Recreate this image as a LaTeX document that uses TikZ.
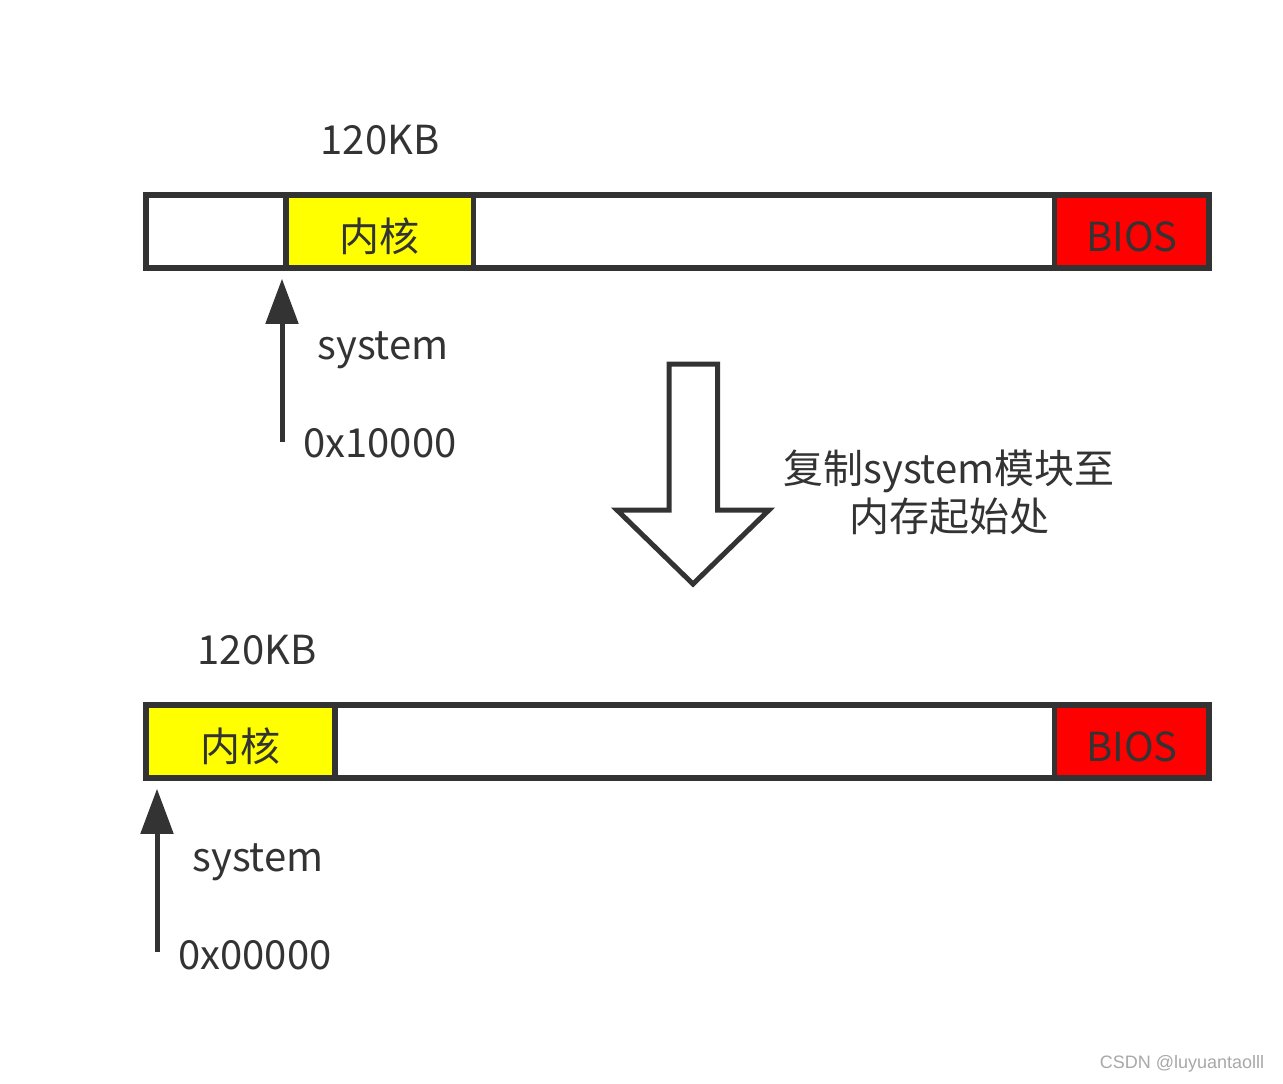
\documentclass[tikz,border=0pt]{standalone}
\usepackage{fontspec}
\setmainfont{Noto Sans CJK SC}
\newfontfamily\wmfont{Liberation Sans}
\usetikzlibrary{arrows.meta}
\definecolor{lc}{HTML}{333333}
\definecolor{wm}{HTML}{A8A8A8}
\definecolor{bred}{HTML}{FF0000}
\definecolor{kyel}{HTML}{FFFF00}
\begin{document}
\begin{tikzpicture}[x=1pt,y=-1pt,
  cell/.style={draw=lc, line width=5.5pt, minimum height=73pt, inner sep=0pt, line join=miter},
  lbl/.style={text=lc, inner sep=0pt, font=\fontsize{40pt}{48pt}\selectfont},
  inlbl/.style={label={[lbl, yshift=-5pt]center:#1}},
  ptr/.style={draw=lc, line width=5pt, shorten >=8pt, -{Triangle[width=32pt,length=45pt]}},
]
\useasboundingbox (0,0) rectangle (1283,1084);
\fill[white] (0,0) rectangle (1283,1084);

% top bar
\node[cell, minimum width=140pt] (c1) at (216,231.5) {};
\node[cell, minimum width=187.5pt, fill=kyel, inlbl=内核] (k1) at (379.75,231.5) {};
\node[cell, minimum width=581pt] (m1) at (764,231.5) {};
\node[cell, minimum width=154.5pt, fill=bred, inlbl=BIOS] (b1) at (1131.75,231.5) {};

\node[lbl] (t1) at (380,140) {120KB};
\node[lbl] (s1) at (383,350) {system};
\node[lbl] (h1) at (380,443) {0x10000};
\coordinate (a1) at (282,442);
\draw[ptr] (a1) -- (a1 |- k1.south);

% hollow arrow
\draw[lc, line width=5pt, line join=miter, fill=white]
  (669,364) -- (717.5,364) -- (717.5,510) -- (769,510) -- (693,584)
  -- (617,510) -- (669,510) -- cycle;
\node[lbl, align=center] (cp) at (949,492) {复制system模块至\\内存起始处};

% bottom bar
\node[cell, minimum width=189pt, fill=kyel, inlbl=内核] (k2) at (240.5,741.5) {};
\node[cell, minimum width=719.5pt] (m2) at (694.75,741.5) {};
\node[cell, minimum width=154.5pt, fill=bred, inlbl=BIOS] (b2) at (1131.75,741.5) {};

\node[lbl] (t2) at (257,650) {120KB};
\node[lbl] (s2) at (258,862) {system};
\node[lbl] (h2) at (255,955) {0x00000};
\coordinate (a2) at (157,952);
\draw[ptr] (a2) -- (a2 |- k2.south);

\node[text=wm, inner sep=0pt, font=\wmfont\fontsize{18pt}{20pt}\selectfont] (wmk) at (1182,1064) {CSDN @luyuantaolll};
\end{tikzpicture}
\end{document}
